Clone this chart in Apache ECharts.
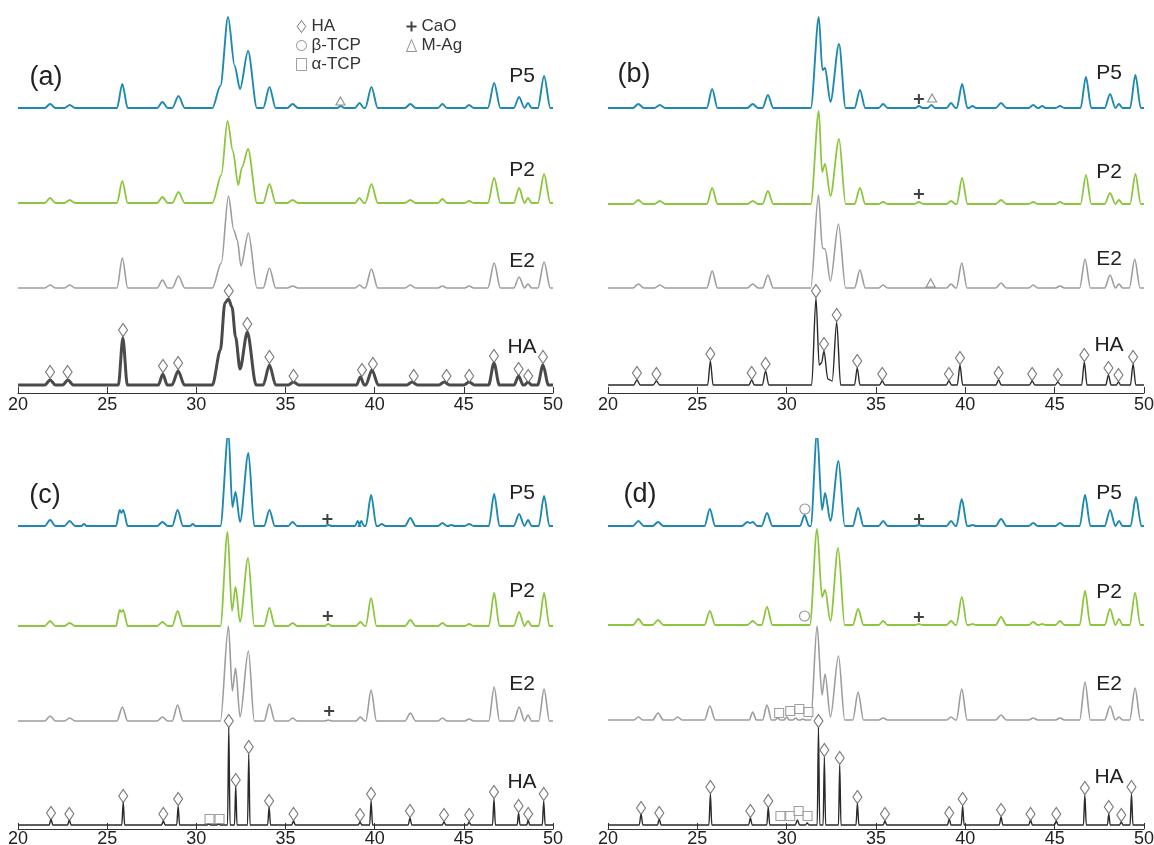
<!DOCTYPE html>
<html><head><meta charset="utf-8">
<script src="https://cdn.jsdelivr.net/npm/echarts@6/dist/echarts.min.js"></script>
<style>html,body{margin:0;padding:0;background:#fff}#chart{width:1154px;height:845px}</style>
</head><body><div id="chart"></div>
<script>
// ---- axis ----
const xMin = 20, xMax = 50, xStep = 5;
const panelLetters = ['(a)', '(b)', '(c)', '(d)'];
const sampleNames = ['P5', 'P2', 'E2', 'HA'];

// ---- baseline intensity of each stacked pattern (P5, P2, E2, HA), a.u. ----
const offA = [285, 190, 105, 8];
const offB = [285, 189, 105, 8];
const offC = [303, 203, 108, 4];
const offD = [303, 204, 109, 4];

// ---- peaks: [2theta, intensity above own baseline, half width at foot (0 = single vertex)] ----
const aP5 = [[21.8,4,.3],[22.9,3,.3],[25.85,24,.3],[28.1,6,.3],[29.0,12,.35],
  [30.9,0,0],[31.35,22,0],[31.78,91,0],[32.15,42,0],[32.45,19,0],[32.9,57,0],[33.4,0,0],
  [34.1,21,.35],[35.4,4,.3],[38.1,2,.2],[39.15,5,.25],[39.82,21,.35],[42.0,4,.3],[43.8,4,.25],[45.3,3,.25],[46.7,25,.35],[48.1,11,.3],[48.6,5,.2],[49.5,32,.35]];
const aP2 = [[21.8,5,.3],[22.9,3,.3],[25.85,22,.3],[28.1,6,.3],[29.0,11,.35],
  [30.9,0,0],[31.4,28,0],[31.75,82,0],[32.05,52,0],[32.35,18,0],[32.55,35,0],[32.9,54,0],[33.4,0,0],
  [34.1,19,.35],[35.4,3,.3],[39.15,5,.25],[39.82,19,.35],[42.0,3,.3],[43.8,4,.25],[45.3,2,.25],[46.7,25,.35],[48.1,15,.3],[48.6,5,.2],[49.5,29,.35]];
const aE2 = [[21.8,3,.3],[22.9,3,.3],[25.85,30,.3],[28.1,8,.3],[29.0,12,.35],
  [30.9,0,0],[31.4,25,0],[31.8,92,0],[32.1,58,0],[32.3,48,0],[32.5,22,0],[32.92,55,0],[33.4,0,0],
  [34.1,20,.35],[35.4,2,.3],[39.15,3,.25],[39.82,19,.35],[42.0,3,.3],[43.8,2,.25],[45.3,2,.25],[46.7,25,.35],[48.1,11,.3],[48.6,4,.2],[49.5,26,.35]];
const aHA = [[21.8,5,.3],[22.8,5,.3],[25.88,47,.25],[28.12,11,.25],[28.98,14,.35],
  [30.9,0,0],[31.35,35,0],[31.6,82,0],[31.8,86,0],[32.0,78,0],[32.2,48,0],[32.45,16,0],[32.86,53,0],[33.35,0,0],
  [34.1,20,.35],[35.45,3,.3],[39.2,8,.22],[39.85,15,.35],[42.1,3,.3],[43.9,3,.3],[45.3,3,.3],[46.69,22,.3],[48.07,9,.25],[48.6,3,.2],[49.44,20,.3]];

const bP5 = [[21.7,4,.3],[22.9,3,.3],[25.83,19,.3],[28.1,4,.3],[28.95,13,.3],
  [31.35,0,0],[31.8,91,0],[32.0,38,0],[32.15,40,0],[32.45,6,0],[32.93,64,0],[33.3,0,0],
  [34.1,18,.3],[35.4,4,.25],[37.4,2,.2],[38.1,3,.2],[39.2,5,.25],[39.82,24,.3],[40.4,2,.2],[42.0,5,.3],[43.8,3,.25],[44.3,2,.2],[45.3,2,.25],[46.75,31,.3],[48.1,14,.3],[48.6,4,.2],[49.52,33,.3]];
const bP2 = [[21.7,4,.3],[22.9,3,.3],[25.83,16,.3],[28.1,3,.3],[28.95,13,.3],
  [31.35,0,0],[31.8,93,0],[31.98,32,0],[32.15,40,0],[32.45,8,0],[32.93,65,0],[33.3,0,0],
  [34.1,16,.3],[35.4,2,.25],[37.4,2,.25],[39.2,3,.25],[39.82,26,.3],[42.0,4,.3],[43.8,2,.25],[45.3,2,.25],[46.75,29,.3],[48.1,11,.3],[48.6,4,.2],[49.52,30,.3]];
const bE2 = [[21.7,4,.3],[22.9,3,.3],[25.83,17,.3],[28.1,4,.3],[28.95,13,.3],
  [31.35,0,0],[31.78,93,0],[32.0,40,0],[32.15,39,0],[32.45,7,0],[32.9,64,0],[33.3,0,0],
  [34.1,18,.3],[35.4,3,.25],[39.2,4,.25],[39.8,25,.3],[42.0,5,.3],[43.8,3,.25],[45.3,2,.25],[46.7,29,.3],[48.1,13,.3],[48.6,4,.2],[49.48,29,.3]];
const bHA = [[21.62,5,.18],[22.71,4,.18],[25.73,24,.15],[28.04,5,.15],[28.82,14,.18],
  [31.4,0,0],[31.64,87,0],[31.82,20,0],[31.95,22,0],[32.09,34,0],[32.3,6,0],[32.55,4,0],[32.8,63,0],[33.02,0,0],
  [33.95,17,.15],[35.35,4,.15],[39.08,4,.15],[39.7,20,.15],[41.86,5,.15],[43.74,4,.15],[45.18,3,.15],[46.66,23,.15],[48.01,10,.15],[48.57,3,.12],[49.39,21,.15]];

const cP5 = [[21.8,6,.3],[22.9,5,.3],[23.7,2,.15],[25.5,0,0],[25.7,16,0],[25.8,13,0],[25.9,16,0],[26.15,0,0],[28.1,4,.3],[28.95,16,.3],[29.8,2,.15],
  [31.35,0,0],[31.8,94,0],[32.02,19,0],[32.2,34,0],[32.45,4,0],[32.92,73,0],[33.25,0,0],
  [34.1,16,.3],[35.4,4,.25],[37.4,1,.2],[39.05,5,.15],[39.25,5,.15],[39.8,31,.3],[40.4,2,.2],[42.0,8,.3],[43.8,3,.25],[44.3,1,.2],[45.3,2,.25],[46.7,32,.3],[48.1,12,.3],[48.6,6,.2],[49.5,30,.3]];
const cP2 = [[21.8,5,.3],[22.9,3,.3],[25.5,0,0],[25.7,16,0],[25.8,14,0],[25.9,16,0],[26.15,0,0],[28.1,4,.3],[28.95,15,.3],
  [31.35,0,0],[31.75,94,0],[32.0,15,0],[32.2,39,0],[32.45,4,0],[32.9,68,0],[33.25,0,0],
  [34.1,18,.3],[35.4,3,.25],[37.4,2,.2],[39.2,4,.25],[39.8,28,.3],[42.0,6,.3],[43.8,3,.25],[45.3,2,.25],[46.7,33,.3],[48.1,14,.3],[48.6,5,.2],[49.5,33,.3]];
const cE2 = [[21.8,5,.3],[22.9,3,.3],[25.85,14,.3],[28.1,4,.3],[28.95,16,.3],
  [31.35,0,0],[31.8,95,0],[32.02,30,0],[32.2,53,0],[32.45,4,0],[32.92,70,0],[33.25,0,0],
  [34.1,17,.3],[35.4,3,.25],[37.4,1,.2],[39.2,4,.25],[39.8,31,.3],[42.0,8,.3],[43.8,3,.25],[45.3,2,.25],[46.7,34,.3],[48.1,14,.3],[48.6,6,.2],[49.5,32,.3]];
const cHA = [[21.85,6,.1],[22.88,5,.1],[25.9,23,.08],[28.15,4,.1],[28.98,19,.08],[30.7,1,.1],[31.25,1,.1],[31.82,98,.07],[32.21,39,.07],[32.94,71,.07],
  [34.08,18,.08],[35.45,4,.1],[39.18,3,.1],[39.8,24,.08],[41.98,7,.1],[43.89,3,.1],[45.3,3,.1],[46.69,26,.08],[48.07,12,.08],[48.61,5,.08],[49.48,24,.08]];

const dP5 = [[21.7,5,.3],[22.8,4,.3],[25.7,17,.3],[27.5,0,0],[27.8,4,0],[27.95,3,0],[28.1,4,0],[28.35,0,0],[28.9,13,.3],[31.0,11,.25],
  [31.35,0,0],[31.7,94,0],[31.98,16,0],[32.15,33,0],[32.45,5,0],[32.9,65,0],[33.25,0,0],
  [34.0,18,.3],[35.4,5,.25],[37.4,1,.2],[39.2,5,.25],[39.8,27,.3],[40.4,1,.2],[42.0,7,.3],[43.8,3,.25],[45.3,3,.25],[46.7,31,.3],[48.1,16,.3],[48.6,5,.2],[49.55,29,.3]];
const dP2 = [[21.7,6,.3],[22.8,5,.3],[25.7,14,.3],[28.1,4,.3],[28.9,18,.3],
  [31.3,0,0],[31.7,96,0],[31.98,28,0],[32.15,35,0],[32.45,4,0],[32.88,77,0],[33.25,0,0],
  [34.0,16,.3],[35.4,4,.25],[37.4,1,.2],[39.2,4,.25],[39.8,28,.3],[40.4,1,.2],[42.0,8,.3],[43.8,3,.25],[44.3,1,.2],[45.3,4,.25],[46.7,34,.3],[48.1,16,.3],[48.6,6,.2],[49.5,32,.3]];
const dE2 = [[21.7,3,.25],[22.8,7,.3],[23.9,3,.25],[25.7,14,.3],[28.1,8,.2],[28.9,15,.25],[29.5,2,.15],[30.0,3,.15],[30.5,2,.15],[30.9,1,.15],
  [31.35,0,0],[31.7,94,0],[31.98,25,0],[32.15,46,0],[32.45,3,0],[32.9,64,0],[33.25,0,0],
  [34.0,28,.3],[35.4,2,.25],[39.2,3,.25],[39.8,31,.3],[42.0,5,.3],[43.8,2,.25],[45.3,2,.25],[46.7,38,.3],[48.1,14,.3],[48.6,3,.2],[49.5,32,.3]];
const dHA = [[21.85,11,.1],[22.87,6,.1],[25.73,31,.08],[27.97,7,.1],[28.97,18,.08],[30.6,5,.12],[31.15,2,.1],[31.78,98,.07],[32.11,68,.07],[32.97,60,.07],
  [33.96,22,.08],[35.5,4,.1],[39.1,6,.1],[39.85,19,.08],[42.0,8,.1],[43.65,5,.1],[45.09,4,.1],[46.69,30,.08],[48.03,11,.08],[48.73,3,.1],[49.3,31,.08]];

// ---- phase markers [2theta, intensity] ----
const haMarksA = [[21.8,21],[22.78,21],[25.89,63],[28.13,27],[28.98,30],[31.82,102],[32.86,69],[34.1,36],[35.45,17],[39.29,23],[39.9,29],[42.19,17],[44.03,17],[45.3,17],[46.69,37],[48.07,24],[48.61,17],[49.44,36]];
const haMarksB = [[21.62,20],[22.71,19],[25.73,39],[28.04,20],[28.82,29],[31.64,102],[32.09,49],[32.8,78],[33.95,32],[35.35,19],[39.08,19],[39.7,35],[41.86,20],[43.74,19],[45.18,18],[46.66,38],[48.01,25],[48.57,18],[49.39,36]];
const haMarksC = [[21.85,16],[22.88,15],[25.9,33],[28.15,15],[28.98,30],[31.82,108],[32.21,49],[32.94,82],[34.08,28],[35.45,15],[39.18,14],[39.8,35],[41.98,18],[43.89,14],[45.3,14],[46.69,37],[48.07,23],[48.61,15],[49.48,35]];
const haMarksD = [[21.85,21],[22.87,16],[25.73,42],[27.97,18],[28.97,28],[31.78,108],[32.11,79],[32.97,71],[33.96,32],[35.5,15],[39.1,16],[39.85,30],[42.0,19],[43.65,15],[45.09,15],[46.69,41],[48.03,22],[48.73,14],[49.3,42]];
const mAgA = [[38.08,292]];
const caoB = [[37.4,294],[37.4,199]];
const mAgB = [[38.14,295],[38.06,110]];
const caoC = [[37.35,310],[37.37,213],[37.45,118]];
const aTcpC = [[30.74,10],[31.3,10]];
const bTcpD = [[31.02,320],[31.0,213]];
const caoD = [[37.41,310],[37.4,212]];
const aTcpD = [[29.58,116],[30.2,118],[30.71,120],[31.22,117],[29.65,13],[30.2,13],[30.67,18],[31.17,13]];

// ---- styling / layout ----
const FONT = '"Liberation Sans", Arial, Helvetica, sans-serif';
const COLORS = ['#1d89b1', '#8cc63f', '#9d9d9d', '#2a2a2a'];
const WIDTHS = [1.9, 1.8, 1.6, 1.4];
const DIAMOND = 'path://M5,0L10,7L5,14L0,7Z';
const PLUS = 'path://M4,0H6V4H10V6H6V10H4V6H0V4H4Z';
const SYM = {
  'HA':    {symbol: DIAMOND, size: [9, 13], style: {color: '#fff', borderColor: '#555', borderWidth: 1.1}},
  'β-TCP': {symbol: 'circle', size: 10, style: {color: '#fff', borderColor: '#777', borderWidth: 1.1}},
  'α-TCP': {symbol: 'rect', size: 9, style: {color: '#fff', borderColor: '#888', borderWidth: 1.1}},
  'CaO':   {symbol: PLUS, size: 10, style: {color: '#111', borderWidth: 0}},
  'M-Ag':  {symbol: 'triangle', size: [9, 8], style: {color: '#fff', borderColor: '#777', borderWidth: 1.1}}
};
const grids = [
  {left: 18, top: 3, width: 535, height: 390, outerBoundsMode: 'none', containLabel: false},
  {left: 608, top: 3, width: 536, height: 390, outerBoundsMode: 'none', containLabel: false},
  {left: 18, top: 439, width: 535, height: 390, outerBoundsMode: 'none', containLabel: false},
  {left: 608, top: 439, width: 536, height: 390, outerBoundsMode: 'none', containLabel: false}
];
const panels = [
  {traces: [aP5, aP2, aE2, aHA], offs: offA, marks: [['HA', haMarksA], ['M-Ag', mAgA]], letter: [46, 78], labelX: 522, labelY: [76, 170, 261, 347], labMargin: 3},
  {traces: [bP5, bP2, bE2, bHA], offs: offB, marks: [['HA', haMarksB], ['CaO', caoB], ['M-Ag', mAgB]], letter: [634, 75], labelX: 1109, labelY: [73, 172, 259, 345], labMargin: 3},
  {traces: [cP5, cP2, cE2, cHA], offs: offC, marks: [['HA', haMarksC], ['CaO', caoC], ['α-TCP', aTcpC]], letter: [45, 496], labelX: 522, labelY: [493, 591, 684, 782], labMargin: 1},
  {traces: [dP5, dP2, dE2, dHA], offs: offD, marks: [['HA', haMarksD], ['CaO', caoD], ['β-TCP', bTcpD], ['α-TCP', aTcpD]], letter: [640, 495], labelX: 1109, labelY: [493, 592, 684, 777], labMargin: 1}
];

function expand(peaks, off) {
  const pts = [[xMin, off]];
  for (const [x, h, w] of peaks) {
    if (w > 0) pts.push([x - w, off], [x, off + h], [x + w, off]);
    else pts.push([x, off + h]);
  }
  pts.push([xMax, off]);
  return pts;
}

const xAxes = [], yAxes = [], series = [], graphics = [];
panels.forEach((p, i) => {
  xAxes.push({
    type: 'value', gridIndex: i, min: xMin, max: xMax, interval: xStep,
    axisLine: {show: true, onZero: false, lineStyle: {color: '#333', width: 1}},
    axisTick: {show: true, inside: true, length: 6, lineStyle: {color: '#333', width: 1}},
    axisLabel: {fontSize: 18, color: '#222', fontFamily: FONT, margin: p.labMargin, showMinLabel: true, showMaxLabel: true, hideOverlap: false},
    splitLine: {show: false}
  });
  yAxes.push({type: 'value', gridIndex: i, min: 0, max: 390, show: false});
  p.traces.forEach((tr, k) => {
    const isNoisyHA = (i === 0 && k === 3);
    series.push({
      type: 'line', name: panelLetters[i] + ' ' + sampleNames[k], xAxisIndex: i, yAxisIndex: i,
      data: expand(tr, p.offs[k]), showSymbol: false, symbol: 'none', silent: true, z: 2,
      smooth: 0.3, smoothMonotone: 'x',
      lineStyle: {color: isNoisyHA ? '#4a4a4a' : COLORS[k], width: isNoisyHA ? 3 : WIDTHS[k], join: 'round'}
    });
    graphics.push({type: 'text', x: p.labelX, y: p.labelY[k], silent: true,
      style: {text: sampleNames[k], font: '21px ' + FONT, fill: '#222', align: 'center', verticalAlign: 'middle'}});
  });
  p.marks.forEach(([name, data]) => {
    const s = SYM[name];
    series.push({type: 'scatter', name, xAxisIndex: i, yAxisIndex: i, data, silent: true, z: 5,
      symbol: s.symbol, symbolSize: s.size, itemStyle: s.style});
  });
  graphics.push({type: 'text', x: p.letter[0], y: p.letter[1], silent: true,
    style: {text: panelLetters[i], font: '27px ' + FONT, fill: '#222', align: 'center', verticalAlign: 'middle'}});
});

function legendItem(name) {
  const s = SYM[name];
  return {name, icon: s.symbol, itemStyle: Object.assign({}, s.style, {borderWidth: s.style.borderWidth ? 1 : 0})};
}
const legendCommon = {orient: 'vertical', itemGap: 2, itemWidth: 10, itemHeight: 12, selectedMode: false,
  symbolKeepAspect: true, padding: 0,
  textStyle: {fontSize: 17, color: '#333', fontFamily: FONT}};
const chart = echarts.init(document.getElementById('chart'), null, {renderer: 'canvas'});
chart.setOption({
  animation: false,
  backgroundColor: '#fff',
  grid: grids,
  xAxis: xAxes,
  yAxis: yAxes,
  legend: [
    Object.assign({left: 296, top: 18, data: ['HA', 'β-TCP', 'α-TCP'].map(legendItem)}, legendCommon),
    Object.assign({left: 406, top: 18, data: ['CaO', 'M-Ag'].map(legendItem)}, legendCommon)
  ],
  graphic: graphics,
  series
});
</script></body></html>
